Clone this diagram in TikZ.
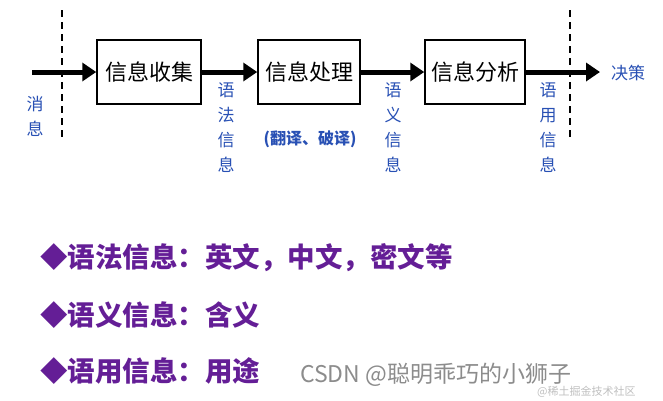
\documentclass[tikz,border=0pt]{standalone}
\usepackage{fontspec}
\setmainfont{Noto Sans CJK SC}
\usetikzlibrary{arrows.meta}
\definecolor{lblblue}{RGB}{40,80,180}
\definecolor{purp}{RGB}{100,30,150}
\begin{document}
\begin{tikzpicture}[x=1pt,y=-1pt,
  box/.style={draw,line width=1.5pt,minimum width=104pt,minimum height=64pt,inner sep=0,font=\fontsize{22}{24}\selectfont},
  flow/.style={line width=5pt,-{Triangle[length=14pt,width=18pt]}},
  lbl/.style={text=lblblue,font=\fontsize{17}{25}\selectfont,align=center,inner sep=0},
  bul/.style={anchor=west,text=purp,font=\fontsize{27.5}{29}\selectfont\bfseries,inner sep=0}]
\useasboundingbox (0,0) rectangle (663,400);
\draw[dash pattern=on 7pt off 5pt,line width=1.5pt] (62,10) -- (62,140);
\draw[dash pattern=on 7pt off 5pt,line width=1.5pt] (570,10) -- (570,140);
\node[box] (b1) at (149,72) {信息收集};
\node[box,minimum width=102pt] (b2) at (309,72) {信息处理};
\node[box,minimum width=100pt] (b3) at (475,72) {信息分析};
\coordinate (s) at (32,72);
\coordinate (e) at (600,72);
\draw[flow] (s) -- (b1.west);
\draw[flow] (b1.east) -- (b2.west);
\draw[flow] (b2.east) -- (b3.west);
\draw[flow] (b3.east) -- (e);
\node[lbl] (m) at (35,116) {消\\息};
\node[lbl] (l1) at (226,128) {语\\法\\信\\息};
\node[lbl] (l2) at (393,128) {语\\义\\信\\息};
\node[lbl] (l3) at (548,128) {语\\用\\信\\息};
\node[lbl,font=\fontsize{16}{18}\selectfont\bfseries] (t) at (310,139) {(翻译、破译)};
\node[lbl] (d) at (628,73) {决策};
\node[bul] (p1) at (40,258) {◆语法信息：英文，中文，密文等};
\node[bul] (p2) at (40,315) {◆语义信息：含义};
\node[bul] (p3) at (40,371) {◆语用信息：用途};
\node[anchor=west,text=black!45,font=\fontsize{23}{24}\selectfont,inner sep=0] (w) at (300,375) {CSDN @聪明乖巧的小狮子};
\node[anchor=west,text=black!25,font=\fontsize{11}{12}\selectfont,inner sep=0] (w2) at (537,392) {@稀土掘金技术社区};
\end{tikzpicture}
\end{document}
